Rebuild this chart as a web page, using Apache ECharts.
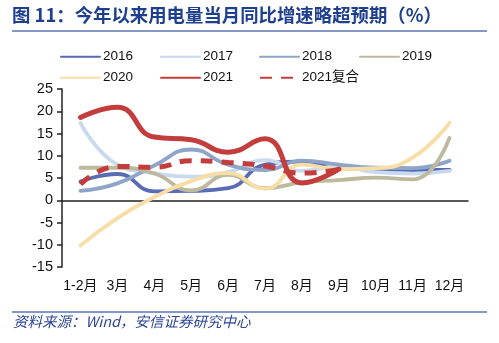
<!DOCTYPE html>
<html>
<head>
<meta charset="utf-8">
<script src="https://cdn.jsdelivr.net/npm/echarts@6/dist/echarts.min.js"></script>
<style>
html,body{margin:0;padding:0;background:#fff;}
#c{width:499px;height:343px;}
</style>
</head>
<body>
<div id="c"></div>
<script>
var categories = ['1-2月','3月','4月','5月','6月','7月','8月','9月','10月','11月','12月'];
var y2016 = [4.2, 5.9, 2.0, 2.1, 2.7, 8.0, 8.7, 7.2, 7.0, 6.8, 6.8];
var y2017 = [17.4, 8.0, 6.1, 5.3, 6.3, 9.0, 6.6, 7.6, 6.3, 6.0, 6.6];
var y2018 = [2.1, 3.8, 7.8, 11.4, 8.0, 6.8, 8.9, 8.0, 7.3, 7.2, 8.9];
var y2019 = [7.3, 7.3, 6.0, 2.2, 5.7, 2.7, 4.0, 4.5, 5.1, 4.7, 14.0];
var y2020 = [-10.2, -4.0, 0.7, 4.3, 6.1, 2.6, 8.0, 7.0, 7.2, 9.6, 17.4];
var y2021 = [18.6, 20.9, 14.2, 13.6, 10.8, 13.8, 3.9, 7.0, null, null, null];
var y2021c = [3.6, 7.6, 7.4, 8.9, 8.5, 7.7, 6.1, 6.9, null, null, null];
var yTicks = [-15, -10, -5, 0, 5, 10, 15, 20, 25];

var names = ['2016','2017','2018','2019','2020','2021','2021复合'];
var colors = ['#5a6bb6','#c9d9ee','#8ea4c8','#bdb99d','#f7dea6','#c33d3c','#c33d3c'];
var dataSets = [y2016, y2017, y2018, y2019, y2020, y2021, y2021c];
var legendPos = [[55,45],[155,45],[254,45],[354,45],[55,66],[155,66],[254,66]];

var chart = echarts.init(document.getElementById('c'), null, {renderer:'canvas'});
var series = names.map(function(n, i){
  var isRed = i >= 5;
  return {
    name: n, type: 'line', data: dataSets[i], smooth: 0.5, symbol: 'none',
    xAxisIndex: 0,
    connectNulls: false,
    lineStyle: {color: colors[i], width: isRed ? 5 : 3.8, type: i === 6 ? [12, 9] : 'solid', cap: i===6 ? 'butt' : 'round'},
    itemStyle: {color: colors[i]},
    z: 2 + i
  };
});
var legends = names.map(function(n, i){
  return {
    data: [n], left: legendPos[i][0], top: legendPos[i][1],
    itemWidth: 39, itemHeight: 14, itemGap: 0,
    itemStyle: {opacity: 0},
    textStyle: {fontSize: 13.5, color: '#111', fontFamily: 'Liberation Sans, Noto Sans CJK SC', padding: [0,0,0,-2]},
    selectedMode: false
  };
});

chart.setOption({
  backgroundColor: '#fff',
  animation: false,
  textStyle: {fontFamily: 'Liberation Sans, Noto Sans CJK SC'},
  legend: legends,
  grid: {left: 62, right: 31, top: 89, bottom: 76, outerBoundsMode: 'none', containLabel: false},
  xAxis: [{
    type: 'category', data: categories, boundaryGap: true, position: 'bottom',
    axisLine: {onZero: true, lineStyle: {color: '#222', width: 1.5}},
    axisTick: {inside: true, length: 6, lineStyle: {color: '#222', width: 1.5}},
    axisLabel: {show: false}
  }, {
    type: 'category', data: categories, boundaryGap: true, position: 'bottom', offset: 0,
    axisLine: {show: false, onZero: false},
    axisTick: {show: false},
    axisLabel: {margin: 12, fontSize: 14, color: '#111', fontFamily: 'Liberation Sans, Noto Sans CJK SC', interval: 0}
  }],
  yAxis: {
    type: 'value', min: yTicks[0], max: yTicks[yTicks.length-1], interval: 5,
    splitLine: {show: false},
    axisLine: {show: true, lineStyle: {color: '#222', width: 1.5}},
    axisTick: {show: true, length: 5, lineStyle: {color: '#222', width: 1.5}},
    axisLabel: {margin: 9, fontSize: 14.5, color: '#111', fontFamily: 'Liberation Sans'}
  },
  graphic: [
    {type: 'text', left: 12, top: 6, style: {text: '图 11：今年以来用电量当月同比增速略超预期（%）', font: 'bold 18.4px "Noto Sans CJK SC"', fill: '#1d3f8e'}},
    {type: 'rect', shape: {x: 12, y: 30, width: 475, height: 2}, style: {fill: '#8497c6'}},
    {type: 'rect', shape: {x: 12, y: 311, width: 475, height: 2}, style: {fill: '#8497c6'}},
    {type: 'text', left: 13, top: 314, style: {text: '资料来源：Wind，安信证券研究中心', font: 'italic 14.5px "Noto Sans CJK SC"', fill: '#2d4796'}}
  ],
  series: series
});
</script>
</body>
</html>
